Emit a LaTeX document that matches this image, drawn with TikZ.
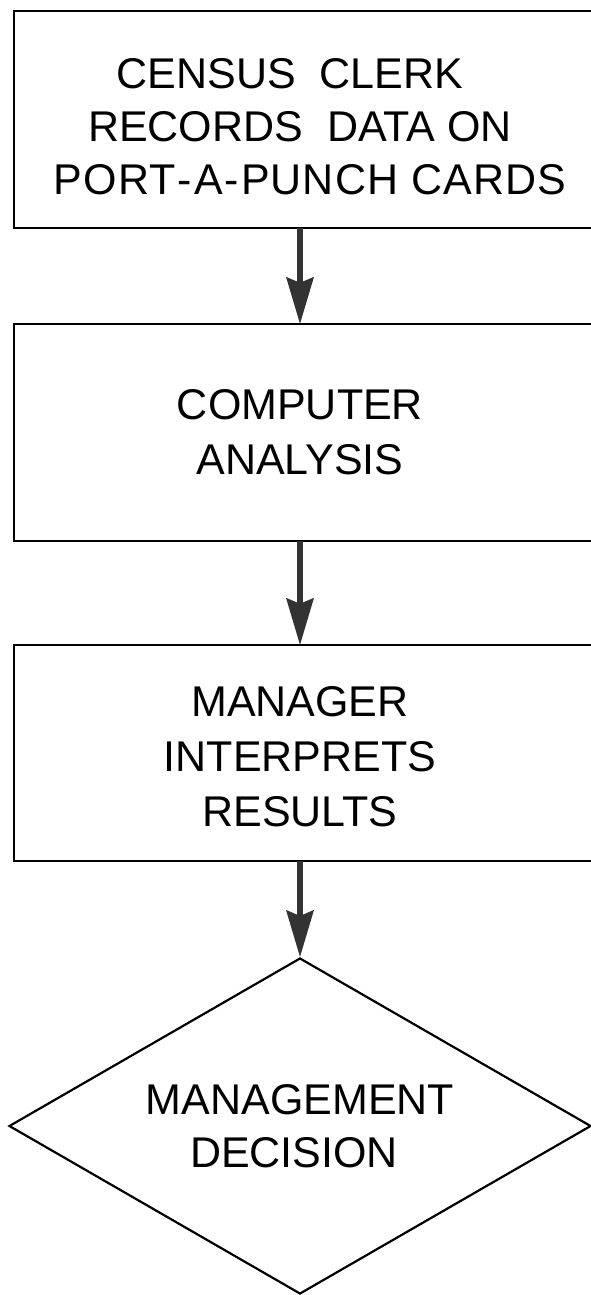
\documentclass[tikz,border=0pt]{standalone}
\usepackage{fontspec}
\setmainfont{Liberation Sans}
\usetikzlibrary{arrows.meta,shapes.geometric}
\begin{document}
\begin{tikzpicture}[x=1pt,y=-1pt,
  lbl/.style={align=center, font=\fontsize{43}{55}\selectfont, inner sep=0pt, minimum width=572pt, text=black},
  outline/.style={line width=1.8pt, draw=black},
  flow/.style={line width=6.5pt, draw=black!80, -{Stealth[length=47pt,width=28pt,inset=6pt,line width=0pt,fill=black!80]}}]
\useasboundingbox (0,0) rectangle (591,1295);
\fill[white] (0,0) rectangle (591,1295);
% boxes (right side runs off the page)
\node[lbl, minimum height=217pt, font=\fontsize{43}{53}\selectfont] (b1) at (300,119.5)
  {\rule{0pt}{45pt}CENSUS\ \ CLERK\hspace*{20pt}\\RECORDS\ \ DATA ON\\{\addfontfeature{LetterSpace=2.5}PORT\kern2pt-\kern2pt A\kern2pt-\kern2pt PUNCH CARDS}\hspace*{-20pt}};
\node[lbl, minimum height=217pt] (b2) at (300,432.5) {COMPUTER\\ANALYSIS};
\node[lbl, minimum height=216pt] (b3) at (300,753) {\rule{0pt}{37pt}MANAGER\\INTERPRETS\\RESULTS};
\node[lbl, shape=diamond, shape aspect=1.73, draw, line width=2.2pt, minimum width=582pt, minimum height=336pt, font=\fontsize{43}{53}\selectfont] (d) at (300,1126) {MANAGEMENT\\DECISION\hspace*{12pt}};
\foreach \b in {b1,b2,b3}{
  \draw[outline] ([xshift=578pt]\b.north west) -- (\b.north west) -- (\b.south west) -- ([xshift=578pt]\b.south west);
}
% connectors
\draw[flow] (b1.south) -- (b2.north);
\draw[flow] (b2.south) -- (b3.north);
\draw[flow] (b3.south) -- (d.north);
\end{tikzpicture}
\end{document}
